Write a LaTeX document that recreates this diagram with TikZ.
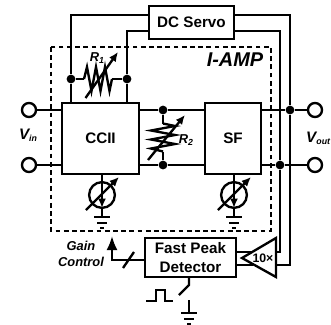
\documentclass[tikz,border=0pt]{standalone}
\usepackage{fontspec}
\setmainfont{Liberation Sans}
\usetikzlibrary{arrows.meta}
\tikzset{>={Latex[length=8pt,width=7pt]}}
\tikzset{
  wire/.style={line width=2pt},
  block/.style={draw,line width=2pt,fill=white,outer sep=0pt,inner sep=0pt,font=\fontsize{13}{15.5}\selectfont\bfseries,align=center},
  port/.style={circle,draw,line width=2pt,fill=white,inner sep=0pt,minimum size=12pt,outer sep=0pt},
  dot/.style={circle,fill=black,inner sep=0pt,minimum size=7.5pt},
  isource/.style={circle,draw,line width=2pt,inner sep=0pt,minimum size=22pt,outer sep=0pt},
  note/.style={font=\fontsize{11}{13.5}\selectfont\bfseries\itshape,align=center,inner sep=0pt},
  pics/varres/.style={code={
    \draw[wire] (-14,0) -- (-11,-12) -- (-6.5,12) -- (-2,-12) -- (2.5,12) -- (7,-12) -- (11.5,12) -- (14,0);
  }},
  pics/earth/.style={code={
    \draw[line width=1.7pt] (-8,0) -- (8,0);
    \draw[line width=1.7pt] (-5,5.5) -- (5,5.5);
    \draw[line width=1.7pt] (-2,10.5) -- (2,10.5);
  }}
}
\newcommand{\subtxt}[1]{\raisebox{-2pt}{\fontsize{7.5}{9}\selectfont #1}}
\begin{document}
\begin{tikzpicture}[x=0.03cm,y=-0.03cm]
  \useasboundingbox (0,0) rectangle (331,324);
  % amplifier outline
  \draw[line width=2pt,dash pattern=on 4pt off 3pt] (51,47) rectangle (271,231);
  % blocks
  \node[block,minimum width=2.55cm,minimum height=0.99cm] (servo) at (191.5,22.5) {DC Servo};
  \node[block,minimum width=2.31cm,minimum height=2.13cm] (ccii) at (100.5,138.5) {CCII};
  \node[block,minimum width=1.68cm,minimum height=2.13cm] (sf) at (233,138.5) {SF};
  \node[block,minimum width=2.73cm,minimum height=1.17cm] (peak) at (190.5,257.5) {Fast Peak\\Detector};
  % terminals
  \node[port] (inp) at (29,110) {};
  \node[port] (inn) at (29,165) {};
  \node[port] (outp) at (315,110) {};
  \node[port] (outn) at (315,165) {};
  \node[dot] (fba) at (71,79) {};
  \node[dot] (fbb) at (127,79) {};
  \node[dot] (rtop) at (163,110) {};
  \node[dot] (rbot) at (163,165) {};
  \node[dot] (outa) at (290,110) {};
  \node[dot] (outb) at (280,165) {};
  \coordinate (servoa) at (149,15);
  \coordinate (servob) at (149,31);
  \coordinate (servoc) at (234,15);
  \coordinate (servod) at (234,31);
  % signal path
  \draw[wire] (inp) -- (ccii.west |- inp);
  \draw[wire] (inn) -- (ccii.west |- inn);
  \draw[wire] (ccii.east |- rtop) -- (rtop) -- (sf.west |- rtop);
  \draw[wire] (ccii.east |- rbot) -- (rbot) -- (sf.west |- rbot);
  \draw[wire] (sf.east |- outa) -- (outa) -- (outp);
  \draw[wire] (sf.east |- outb) -- (outb) -- (outn);
  % servo loop
  \draw[wire] (servoa) -| (fba) -- (ccii.north -| fba);
  \draw[wire] (servob) -| (fbb) -- (ccii.north -| fbb);
  \coordinate (ampa) at (272,252);
  \coordinate (ampb) at (272,265);
  \draw[wire] (servoc) -| (outa) |- (ampb);
  \draw[wire] (servod) -| (outb) |- (ampa);
  % R1
  \pic at (98,79) {varres};
  \coordinate (ronea) at (84,79);
  \coordinate (roneb) at (112,79);
  \draw[wire] (fba) -- (ronea);
  \draw[wire] (roneb) -- (fbb);
  \draw[wire,->] (85.5,98) -- (118,52);
  \node[note] (rone) at (97,58) {R\subtxt{1}};
  % R2
  \pic[rotate=90] at (163,137.5) {varres};
  \coordinate (rtwoa) at (163,123.5);
  \coordinate (rtwob) at (163,151.5);
  \draw[wire] (rtop) -- (rtwoa);
  \draw[wire] (rtwob) -- (rbot);
  \draw[wire,->] (148,160) -- (185,115);
  \node[note] (rtwo) at (186,140) {R\subtxt{2}};
  % current sources
  \foreach \name/\xpos in {srca/102,srcb/234}{
    \node[isource] (\name) at (\xpos,195) {};
    \draw[wire] (\xpos,174) -- (\name);
    \draw[wire] (\name) -- (\xpos,217);
    \draw[line width=1.7pt,->] (\name.north) -- (\name.south);
    \draw[wire,->] (\xpos-16,210) -- (\xpos+17,177);
    \pic at (\xpos,217) {earth};
  }
  % peak detector path
  \coordinate (tipa) at (242,258);
  \coordinate (tipb) at (276,238);
  \coordinate (tipc) at (276,277);
  \draw[wire] (peak.east |- ampa) -- (253,252);
  \draw[wire] (peak.east |- ampb) -- (253,265);
  \draw[wire,fill=white] (tipa) -- (tipb) -- (tipc) -- cycle;
  \node[font=\fontsize{10.5}{12}\selectfont\bfseries,inner sep=0pt] (gainx) at (263,258) {10×};
  \coordinate (gainup) at (112,236);
  \draw[wire,-{Latex[length=12pt,width=9.5pt]}] (peak.west |- 0,260) -| (gainup);
  \coordinate (slasha) at (123,268);
  \coordinate (slashb) at (134,252);
  \draw[wire] (slasha) -- (slashb);
  % switch
  \coordinate (swa) at (189,285);
  \coordinate (swb) at (179,295);
  \coordinate (swc) at (189,300);
  \coordinate (swd) at (189,313);
  \draw[wire] (peak.south -| swa) -- (swa) -- (swb);
  \draw[wire] (swc) -- (swd);
  \pic at (swd) {earth};
  \draw[wire] (146,301) -- (156,301) -- (156,290) -- (165,290) -- (165,301) -- (173,301);
  % labels
  \node[note,font=\fontsize{17}{19}\selectfont\bfseries\itshape] (iamp) at (235,60) {I-AMP};
  \node[note,font=\fontsize{13}{16}\selectfont\bfseries\itshape] (vin) at (28,135) {V\subtxt{in}};
  \node[note,font=\fontsize{13}{16}\selectfont\bfseries\itshape,anchor=west] (vout) at (306,138) {V\subtxt{out}};
  \node[note] (gain) at (81,254) {Gain\\Control};
\end{tikzpicture}
\end{document}
